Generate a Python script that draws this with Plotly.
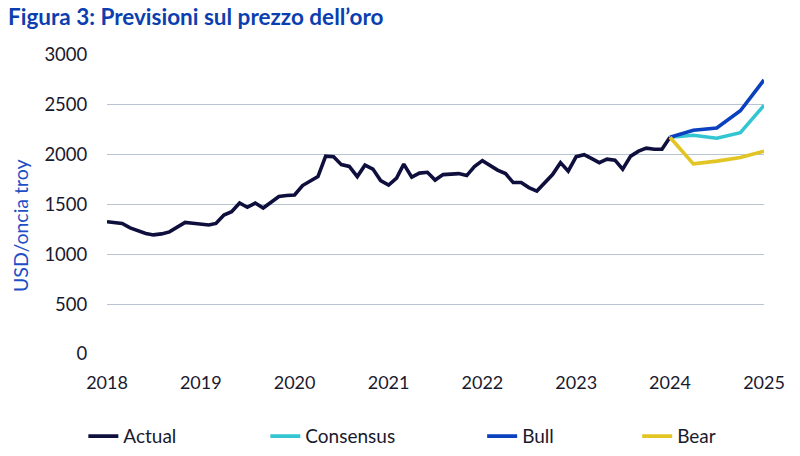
import pandas as pd
import plotly.graph_objects as go

# ---- data ----
actual_start = "2018-01-01"
actual_values = [
    1327, 1318, 1310, 1265, 1235, 1210, 1195, 1205, 1225, 1270, 1320, 1312,
    1300, 1295, 1310, 1395, 1428, 1515, 1472, 1515, 1465, 1520, 1580, 1590,
    1595, 1690, 1735, 1780, 1985, 1980, 1900, 1882, 1780, 1895, 1855, 1740,
    1695, 1765, 1905, 1775, 1815, 1823, 1745, 1800, 1805, 1810, 1790, 1880,
    1940, 1885, 1845, 1810, 1720, 1720, 1670, 1635, 1720, 1800, 1920, 1835,
    1980, 2000, 1962, 1920, 1955, 1945, 1855, 1985, 2035, 2065, 2055, 2055,
    2175,
]
forecast_dates = ["2024-01-01", "2024-04-01", "2024-07-01", "2024-10-01", "2025-01-01"]
consensus_values = [2175, 2195, 2165, 2220, 2495]
bull_values = [2175, 2245, 2268, 2440, 2750]
bear_values = [2175, 1908, 1935, 1972, 2035]

y_ticks = [0, 500, 1000, 1500, 2000, 2500, 3000]
x_tick_labels = ["2018", "2019", "2020", "2021", "2022", "2023", "2024", "2025"]

series_names = ["Actual", "Consensus", "Bull", "Bear"]
colors = {"Actual": "#0f0f3d", "Consensus": "#33c6d2", "Bull": "#0b40bf", "Bear": "#e2c523"}

actual_dates = pd.date_range(actual_start, periods=len(actual_values), freq="MS")

FONT = "Lato"
fig = go.Figure()

traces = [
    ("Actual", actual_dates, actual_values),
    ("Consensus", forecast_dates, consensus_values),
    ("Bull", forecast_dates, bull_values),
    ("Bear", forecast_dates, bear_values),
]
legend_x = [-0.036, 0.241, 0.571, 0.807]
for k, (name, xs, ys) in enumerate(traces):
    fig.add_trace(go.Scatter(
        x=xs, y=ys, mode="lines", name=name,
        line=dict(color=colors[name], width=3.6),
        legend="legend" if k == 0 else f"legend{k+1}",
        hoverinfo="skip",
    ))

legend_common = dict(
    orientation="h", yanchor="middle", y=-0.275, xanchor="left",
    font=dict(family=FONT, size=19, color="#1a1a2e"),
    bgcolor="rgba(0,0,0,0)", itemwidth=30, tracegroupgap=0,
)
layout_legends = {}
for k in range(4):
    key = "legend" if k == 0 else f"legend{k+1}"
    layout_legends[key] = dict(legend_common, x=legend_x[k])

x_tick_vals = [f"{y}-01-01" for y in x_tick_labels]

fig.update_layout(
    width=800, height=456,
    margin=dict(l=107, r=36, t=55, b=102, autoexpand=False),
    paper_bgcolor="white", plot_bgcolor="white",
    title=dict(
        text="<b>Figura 3: Previsioni sul prezzo dell’oro</b>",
        x=0.01, xanchor="left", y=0.962, yanchor="middle",
        font=dict(family=FONT, size=22.5, color="#0b3fb0"),
    ),
    font=dict(family=FONT, size=18, color="#1a1a2e"),
    showlegend=True,
    **layout_legends,
)
fig.add_annotation(
    text="USD/oncia troy", textangle=-90,
    xref="paper", yref="paper", x=-0.1324, y=0.428,
    xanchor="center", yanchor="middle", showarrow=False,
    font=dict(family=FONT, size=19.5, color="#1f4fc6"),
)
fig.update_xaxes(
    type="date", range=["2018-01-01", "2025-01-01"],
    tickvals=x_tick_vals, ticktext=x_tick_labels,
    showgrid=False, zeroline=False, showline=False,
    ticks="outside", ticklen=12, tickcolor="rgba(0,0,0,0)",
    tickfont=dict(family=FONT, size=18, color="#1a1a2e"),
)
fig.update_yaxes(
    range=[0, 3000], tickvals=y_ticks,
    showgrid=True, gridcolor="#b8c4d2", gridwidth=1.3,
    zeroline=False, showline=False,
    ticks="outside", ticklen=15, tickcolor="rgba(0,0,0,0)",
    tickfont=dict(family=FONT, size=18.5, color="#1a1a2e"),
)

fig.write_html(
    "out.html",
    config={"displayModeBar": False},
    post_script="document.body.style.margin='0px';document.body.style.overflow='hidden';",
)
